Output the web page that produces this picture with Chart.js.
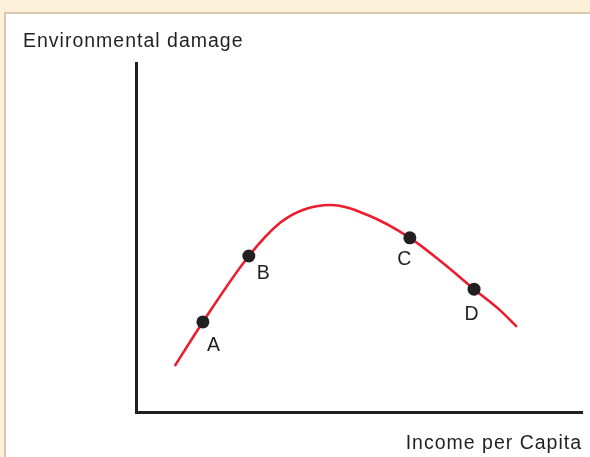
<!DOCTYPE html>
<html>
<head>
<meta charset="utf-8">
<script src="https://cdn.jsdelivr.net/npm/chart.js@4"></script>
<style>
  html, body { margin: 0; padding: 0; }
  body { width: 590px; height: 457px; background: #fdf0d8; position: relative; overflow: hidden; }
  #panel { position: absolute; left: 4px; top: 12px; right: 0; bottom: 0; background: #ffffff;
           border-left: 2px solid #d9c8ad; border-top: 2px solid #d9c8ad; }
  #c { position: absolute; left: 0; top: 0; }
</style>
</head>
<body>
<div id="panel"></div>
<canvas id="c" width="590" height="457"></canvas>
<script>
// ---- data (arbitrary units) ----
const yAxisTitle = 'Environmental damage';
const xAxisTitle = 'Income per Capita';
const curveX = [8.7, 15.0, 25.3, 32.3, 37.4, 43.7, 51.8, 61.4, 68.8, 75.8, 81.6, 85.4];
const curveY = [13.2, 25.8, 44.7, 54.2, 57.9, 59.3, 56.5, 49.9, 42.7, 35.2, 29.2, 24.4];
const pointLabels = ['A', 'B', 'C', 'D'];
const pointX = [15.0, 25.3, 61.4, 75.8];
const pointY = [25.8, 44.7, 49.9, 35.2];

// ---- styles ----
const FONT = '"Liberation Sans", Arial, Helvetica, sans-serif';
const FONT_SIZE = 19.5;
const TEXT_COLOR = '#231f20';
const labelOffsets = [[11, 24], [15, 18], [-5, 22], [-2, 25]];

const curveData = curveX.map((x, i) => ({ x: x, y: curveY[i] }));
const markData = pointX.map((x, i) => ({ x: x, y: pointY[i] }));

const spacingPlugin = {
  id: 'spacing',
  beforeDraw(chart) { chart.ctx.letterSpacing = '1px'; }
};

const labelPlugin = {
  id: 'pointLabelText',
  afterDatasetsDraw(chart) {
    const meta = chart.getDatasetMeta(1);
    const ctx = chart.ctx;
    ctx.save();
    ctx.font = FONT_SIZE + 'px ' + FONT;
    ctx.fillStyle = TEXT_COLOR;
    ctx.textAlign = 'center';
    ctx.textBaseline = 'middle';
    meta.data.forEach((el, i) => {
      const o = labelOffsets[i];
      ctx.fillText(pointLabels[i], el.x + o[0], el.y + o[1]);
    });
    ctx.restore();
  }
};

new Chart(document.getElementById('c'), {
  type: 'scatter',
  data: {
    datasets: [
      {
        type: 'line',
        data: curveData,
        borderColor: '#ed1c2e',
        borderWidth: 2.6,
        pointRadius: 0,
        cubicInterpolationMode: 'monotone',
        fill: false,
        order: 2
      },
      {
        data: markData,
        backgroundColor: '#231f20',
        borderColor: '#231f20',
        borderWidth: 0,
        pointRadius: 6.5,
        order: 1
      }
    ]
  },
  options: {
    responsive: false,
    animation: false,
    events: [],
    layout: { padding: { left: 23, top: 0, right: 8, bottom: 0 } },
    plugins: {
      legend: { display: false },
      tooltip: { enabled: false },
      title: {
        display: true,
        text: yAxisTitle,
        align: 'start',
        color: TEXT_COLOR,
        font: { family: FONT, size: FONT_SIZE, weight: 'normal', lineHeight: 1.2 },
        padding: { top: 30.2, bottom: 9.4 }
      }
    },
    scales: {
      x: {
        type: 'linear',
        min: 0, max: 100,
        grid: { display: false },
        ticks: { display: false },
        border: { display: true, color: '#231f20', width: 3 },
        title: {
          display: true,
          text: xAxisTitle,
          align: 'end',
          color: TEXT_COLOR,
          font: { family: FONT, size: FONT_SIZE, weight: 'normal', lineHeight: 1.2 },
          padding: { top: 0, bottom: 1.6 }
        },
        afterFit(s) { s.height = 45; }
      },
      y: {
        type: 'linear',
        min: 0, max: 100,
        grid: { display: false },
        ticks: { display: false },
        border: { display: true, color: '#231f20', width: 3 },
        afterFit(s) { s.width = 113; }
      }
    }
  },
  plugins: [spacingPlugin, labelPlugin]
});
</script>
</body>
</html>
